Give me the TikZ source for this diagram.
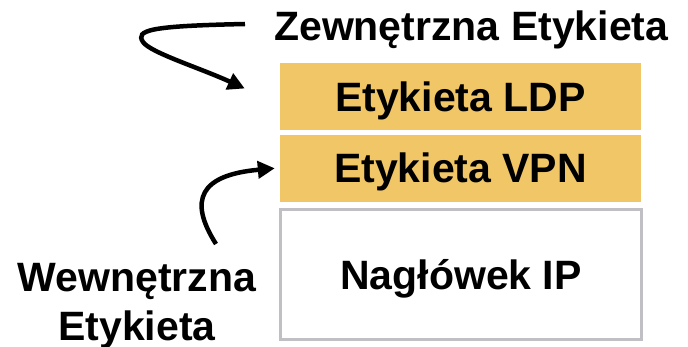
\documentclass[tikz,border=0pt]{standalone}
\usepackage{fontspec}
\setmainfont{Liberation Sans}
\usetikzlibrary{arrows.meta}
\definecolor{labelgold}{RGB}{240,198,102}
\definecolor{headergrey}{RGB}{192,192,196}
\begin{document}
\begin{tikzpicture}[x=1pt,y=-1pt,
  every node/.style={font=\fontsize{41}{50}\selectfont\bfseries},
  layer/.style={inner sep=0pt, text height=29.4pt, text depth=0pt},
  labelbox/.style={layer, fill=labelgold, minimum width=361pt, minimum height=67pt},
  ipbox/.style={layer, draw=headergrey, line width=3pt, fill=white,
                minimum width=361pt, minimum height=130pt},
  pointer/.style={line width=4.5pt, -{Triangle[length=17pt,width=17pt]}}]
\useasboundingbox (0,0) rectangle (688,347);

% label stack
\node[labelbox] (ldp) at (460.5,96.5)  {Etykieta LDP};
\node[labelbox] (vpn) at (460.5,168.3) {Etykieta VPN};
\node[ipbox]    (ip)  at (461,274.5)   {Nagłówek IP};

% captions
\node[anchor=base west, inner sep=0pt] (outer) at (274,41) {Zewnętrzna Etykieta};
\node[anchor=base, inner sep=0pt, align=center] (inner) at (137,341) {Wewnętrzna\\Etykieta};

% pointer anchors (yshift is in page units, so positive moves up)
\coordinate (outerstart) at ([xshift=-29pt,yshift=17pt]outer.base west);
\coordinate (ldptip)     at ([xshift=-35pt,yshift=8pt]ldp.west);
\coordinate (innerstart) at (216,244);
\coordinate (vpntip)     at ([xshift=-5pt]vpn.west);

% pointers
\draw[pointer] (outerstart) .. controls (150,26) and (135,30) .. (143,42)
               .. controls (150,52.5) and (200,68) .. (ldptip);
\draw[pointer] (innerstart) .. controls (188,200) and (200,175) .. (vpntip);
\end{tikzpicture}
\end{document}
